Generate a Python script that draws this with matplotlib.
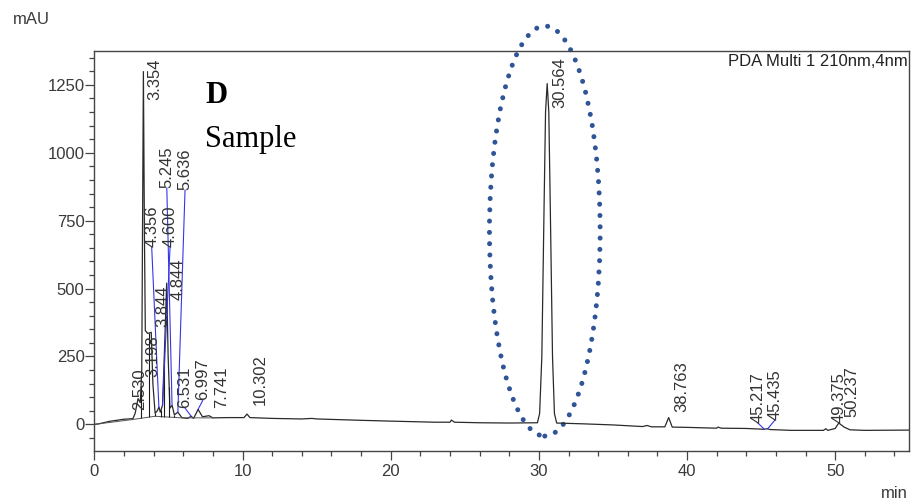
import numpy as np
import matplotlib
matplotlib.use("Agg")
import matplotlib.pyplot as plt
from matplotlib.patches import Ellipse
from matplotlib.ticker import MultipleLocator

# chromatogram trace (time in min, signal in mAU)
trace_t = [0.0, 0.3, 1.0, 2.0, 2.6, 2.75, 2.95, 3.1, 3.2, 3.31, 3.38, 3.44, 3.6, 3.84, 3.95, 4.1,
           4.25, 4.36, 4.45, 4.6, 4.72, 4.88, 4.98, 5.1, 5.25, 5.4, 5.64, 5.9, 6.3, 6.53, 6.7,
           7.0, 7.3, 7.74, 8.0, 9.0, 10.1, 10.3, 10.5, 12.0, 14.0, 14.7, 15.0, 18.0, 20.0,
           23.0, 24.0, 24.1, 24.3, 26.0, 28.0, 29.9, 30.05, 30.2, 30.35, 30.45, 30.56, 30.67,
           30.77, 30.92, 31.05, 31.2,
           33.0, 35.0, 37.0, 37.3, 37.6, 38.5, 38.76, 39.0, 40.0, 42.0, 42.1, 42.3, 44.0,
           45.2, 45.4, 45.6, 47.0, 49.2, 49.37, 49.5, 50.0, 50.24, 50.6, 51.0, 52.0, 55.0]
trace_y = [0, 2, 11, 19, 21, 40, 95, 80, 200, 1299, 700, 345, 335, 339, 150, 41,
           50, 64, 45, 70, 250, 520, 250, 60, 70, 35, 45, 25, 22, 30, 22,
           55, 28, 32, 24, 25, 25, 38, 25, 22, 20, 22, 20, 15, 12,
           8, 8, 16, 8, 6, 5, 6, 40, 250, 800, 1150, 1255, 1150,
           800, 250, 40, 5,
           2, -2, -8, -4, -9, -9, 25, -10, -11, -14, -10, -14, -15,
           -18, -16, -19, -22, -22, -16, -22, -15, 5, -10, -20, -22, -21]

# peak labels
peak_rt = [2.530, 3.198, 3.354, 3.844, 4.356, 4.600, 4.844, 5.245, 5.636, 6.531, 6.997,
           7.741, 10.302, 30.564, 38.763, 45.217, 45.435, 49.375, 50.237]
label_x = [3.08, 3.96, 4.10, 4.64, 3.87, 5.11, 5.65, 4.89, 6.12, 6.12, 7.33,
           8.62, 11.18, 31.42, 39.64, 44.78, 45.93, 50.25, 51.15]
label_y = [53, 175, 1195, 359, 653, 653, 458, 871, 863, 60, 90,
           60, 71, 1166, 45, 5, 16, 5, 27]
leader = [False, False, False, False, True, True, False, True, True, True, True,
          False, False, False, False, True, True, False, False]

# integration drop lines
drop_t = [3.15, 3.71, 4.1, 4.5, 4.72, 5.05, 5.4, 5.9]
baseline_t = [0.0, 2.6, 4.1, 5.9, 8.0]
baseline_y = [0, 18, 30, 24, 24]

fig = plt.figure(figsize=(9.16, 5.04), dpi=100)
ax = fig.add_axes([0.103, 0.1057, 0.8897, 0.7937])

ax.plot(trace_t, trace_y, color="#2a2a2a", lw=0.9)
ax.plot(baseline_t, baseline_y, color="#555555", lw=0.7)
drop_v = np.interp(drop_t, trace_t, trace_y)
base_v = np.interp(drop_t, baseline_t, baseline_y)
ax.vlines(drop_t, base_v, drop_v, color="#1a1a1a", lw=0.8)

for rt, lx, ly, lead, in zip(peak_rt, label_x, label_y, leader):
    ax.text(lx, ly, f"{rt:.3f}", rotation=90, ha="center", va="bottom",
            fontsize=12, family="Liberation Sans", color="#333333")
    if lead:
        ax.plot([lx, rt], [ly, np.interp(rt, trace_t, trace_y)], color="#3535e8", lw=0.8)

# dotted ellipse around the main peak
ell = Ellipse((30.4, 712), 7.47, 1510, fill=False, edgecolor="#2F5597", lw=3.6,
              linestyle=(0, (0.01, 2.25)), clip_on=False)
ell.set_capstyle("round")
ax.add_patch(ell)

ax.text(0.998, 0.992, "PDA Multi 1 210nm,4nm", transform=ax.transAxes, ha="right", va="top",
        fontsize=12, family="Liberation Sans", color="#222222")
ax.text(0.136, 0.869, "D", transform=ax.transAxes, fontsize=22, fontweight="bold",
        family="Liberation Serif", va="baseline")
ax.text(0.136, 0.759, "Sample", transform=ax.transAxes, fontsize=22,
        family="Liberation Serif", va="baseline")

ax.set_xlim(0, 55)
ax.set_ylim(-97, 1376)
ax.xaxis.set_major_locator(MultipleLocator(10))
ax.xaxis.set_minor_locator(MultipleLocator(2))
ax.yaxis.set_major_locator(MultipleLocator(250))
ax.yaxis.set_minor_locator(MultipleLocator(50))
ax.tick_params(which="major", direction="out", length=6.5, width=0.9, color="#444444",
               labelsize=12, labelcolor="#3a3a3a")
ax.tick_params(which="minor", direction="out", length=3.6, width=0.9, color="#444444")
ax.tick_params(axis="y", pad=0.5)
ax.tick_params(axis="x", pad=3)
for lab in ax.get_xticklabels() + ax.get_yticklabels():
    lab.set_family("Liberation Sans")
for sp in ax.spines.values():
    sp.set_color("#444444")
    sp.set_linewidth(1.0)

fig.text(13 / 916, 1 - 19 / 504, "mAU", fontsize=12, family="Liberation Sans",
         color="#3a3a3a", va="center", ha="left")
fig.text(908 / 916, 1 - 494 / 504, "min", fontsize=12, family="Liberation Sans",
         color="#3a3a3a", va="center", ha="right")

fig.savefig("out.png", dpi=100)
